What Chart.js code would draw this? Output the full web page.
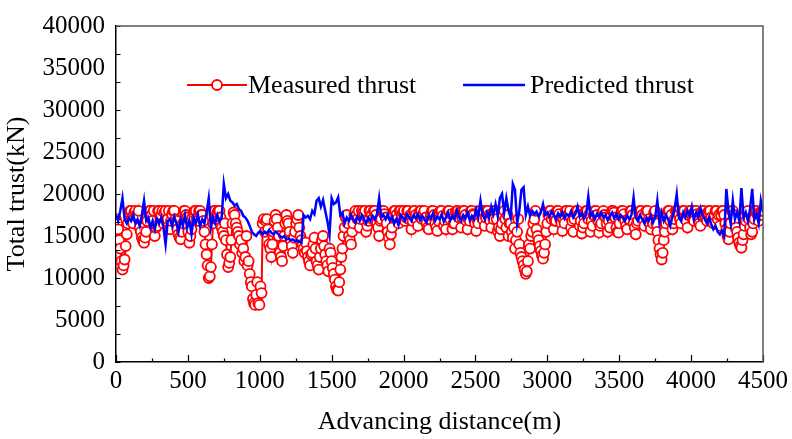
<!DOCTYPE html>
<html>
<head>
<meta charset="utf-8">
<script src="https://cdn.jsdelivr.net/npm/chart.js@4.4.1/dist/chart.umd.min.js"></script>
<style>
  body { margin: 0; background: #fff; }
  canvas { display: block; }
</style>
</head>
<body>
<canvas id="chart" width="792" height="439"></canvas>
<script>
// measured thrust read every 7.5 m, predicted every 15 m (0..4500 m)
const measuredDistance = Array.from({ length: 601 }, (_, i) => i * 7.5);
const predictedDistance = Array.from({ length: 301 }, (_, i) => i * 15);

const measured = [
  17000, 16500, 15800, 14500, 13500, 12000, 11000, 11500, 12200, 13800, 15200, 16500, 17800, 18000, 18000, 17200, 16500, 17800, 18000, 17500,
  17200, 18000, 16000, 15500, 14800, 14500, 14200, 14800, 15500, 16800, 17800, 18000, 18000, 17500, 16800, 18000, 15000, 16000, 16200, 18000,
  18000, 17200, 17500, 18000, 16500, 17800, 18000, 16800, 17000, 18000, 15800, 16800, 17600, 18000, 18000, 17000, 16800, 15800, 15200, 14800,
  14600, 15500, 16500, 18000, 18000, 17500, 17200, 15500, 14200, 15000, 15800, 17200, 17800, 18000, 18000, 17000, 16800, 18000, 18000, 17500,
  17500, 16800, 15500, 14000, 12800, 11500, 10000, 10200, 11300, 14000, 16500, 18000, 18000, 17000, 17800, 18000, 18000, 17200, 16000, 15500,
  15000, 16500, 14500, 12800, 11300, 11800, 12500, 14500, 16500, 17800, 17500, 16500, 16000, 15500, 15000, 14000, 14500, 13000, 13500, 12000,
  12500, 15000, 11500, 12000, 10500, 9500, 9000, 7500, 7000, 6800, 8000, 9500, 7000, 6800, 9000, 8200, 16500, 17000, 15500, 16800,
  17000, 15800, 14000, 13500, 12500, 14000, 15500, 16800, 17500, 17000, 16000, 15000, 13000, 12500, 12000, 13800, 15000, 16500, 17500, 16800,
  16500, 15500, 14500, 13800, 13000, 14800, 15500, 16500, 17000, 17500, 16000, 15000, 14500, 14000, 13500, 13000, 14200, 13200, 12500, 12000,
  11500, 12800, 13000, 14000, 14800, 13500, 12000, 11500, 11000, 12500, 13500, 14500, 15000, 13800, 12800, 12000, 11500, 10800, 13500, 13000,
  12000, 11200, 10500, 9800, 9000, 8600, 8500, 9500, 11000, 12500, 13500, 15000, 16000, 17200, 17500, 16500, 15000, 14500, 14000, 15500,
  16500, 17500, 18000, 17500, 17000, 18000, 16000, 17000, 18000, 17800, 17500, 18000, 15500, 16200, 16800, 18000, 18000, 17500, 17000, 18000,
  18000, 17500, 16500, 16000, 15000, 16800, 17000, 18000, 18000, 17600, 17200, 16500, 15500, 14800, 14000, 15200, 16000, 17500, 18000, 18000,
  17500, 17000, 16500, 18000, 18000, 17500, 17800, 18000, 16800, 17200, 18000, 18000, 17000, 17500, 15800, 16800, 18000, 18000, 17500, 17000,
  16200, 17500, 18000, 18000, 17000, 17600, 18000, 17200, 16500, 16000, 15800, 17000, 17500, 18000, 18000, 17500, 16500, 16000, 15600, 16800,
  17800, 18000, 18000, 17400, 16200, 16800, 15800, 17500, 18000, 18000, 17000, 17600, 15800, 16500, 16500, 17800, 18000, 18000, 17200, 17800,
  16000, 17200, 18000, 18000, 17500, 16800, 15800, 17000, 16800, 18000, 18000, 17600, 17500, 16500, 15600, 17000, 16500, 18000, 18000, 17500,
  17000, 18000, 16200, 17200, 18000, 18000, 17500, 16800, 16000, 17500, 17000, 18000, 18000, 17000, 15600, 16000, 15000, 15800, 16500, 17500,
  18000, 17000, 16000, 17500, 15000, 16500, 16500, 15500, 14800, 16000, 13500, 14500, 15500, 17000, 14000, 13000, 12500, 12000, 11500, 11000,
  10500, 10800, 12000, 14000, 13500, 15000, 15500, 16500, 17000, 18000, 15800, 15000, 14500, 13800, 13200, 12700, 12300, 13000, 14000, 15500,
  16500, 17500, 18000, 18000, 17000, 17500, 15800, 16800, 16800, 18000, 18000, 17600, 17000, 16500, 15600, 17000, 16500, 18000, 18000, 17500,
  17500, 18000, 16000, 16800, 15500, 17000, 17800, 18000, 18000, 17500, 16200, 16800, 15300, 16000, 16500, 17800, 18000, 18000, 17000, 17600,
  15500, 16800, 16200, 17500, 18000, 18000, 17500, 16800, 15400, 16200, 16500, 17800, 18000, 17500, 17200, 16500, 15500, 16800, 16000, 17500,
  18000, 18000, 17800, 17200, 16000, 15500, 15400, 16500, 17500, 18000, 18000, 17600, 16800, 16200, 15800, 17000, 17000, 18000, 18000, 17500,
  16500, 16000, 15200, 16500, 16800, 17800, 18000, 18000, 17500, 17000, 16200, 17500, 18000, 18000, 17000, 16500, 15800, 16800, 16500, 17800,
  18000, 16500, 15500, 14500, 13500, 12800, 12200, 13000, 14500, 15500, 16500, 17500, 18000, 18000, 16800, 17500, 15800, 16500, 17000, 18000,
  18000, 18000, 17500, 17000, 16500, 17800, 18000, 18000, 17200, 16800, 16000, 17500, 18000, 18000, 17500, 17000, 16800, 18000, 18000, 17600,
  17000, 16500, 16200, 17500, 18000, 18000, 17500, 17200, 16800, 17800, 18000, 18000, 17200, 16800, 16500, 17500, 18000, 18000, 17000, 17500,
  16200, 17500, 18000, 18000, 17500, 16500, 15800, 15000, 14600, 15500, 16500, 18000, 18000, 17500, 17000, 16000, 15500, 14800, 14200, 13800,
  13600, 14500, 15200, 16200, 16800, 17800, 18000, 17000, 16000, 15200, 15500, 16500, 17000, 18000, 18000, 17500, 16800, 17800, 17500, 18000,
  18000
];

const predicted = [
  17500, 16800, 18000, 19500, 17000, 16500, 17200, 16800, 17500, 16500, 17000, 16200, 17500, 19200, 16800, 17200, 16000, 16800, 15800, 17000,
  16500, 17200, 16000, 14000, 16800, 17000, 16200, 17300, 16500, 15500, 17000, 16200, 17500, 16000, 16800, 15200, 17200, 16500, 17500, 16200,
  17000, 16500, 17800, 19500, 16000, 17200, 16500, 17500, 16800, 17200, 21200, 19500, 20000, 19200, 19000, 18600, 18800, 18200, 18000, 17400,
  17200, 16800, 16200, 15500, 15200, 15000, 15400, 15600, 15200, 15500, 15300, 15700, 15400, 15200, 15500, 15300, 15000, 14800, 15000, 14600,
  14700, 14500, 14600, 14400, 14500, 14300, 14200, 17500, 17200, 17400, 17000, 18000, 17600, 19200, 19500, 18500, 19300, 18000, 16800, 15200,
  19500, 18800, 19000, 19600, 17500, 17800, 16500, 17200, 16800, 17500, 17000, 16600, 17300, 16800, 17500, 17000, 16500, 17200, 16800, 17400,
  17000, 17600, 19500, 17200, 17500, 17000, 17600, 16800, 17300, 16500, 17000, 16300, 17500, 17200, 16800, 17600, 17200, 16800, 17500, 17100,
  17600, 16900, 17400, 17000, 16600, 17500, 17100, 17700, 16800, 17300, 17000, 17600, 16700, 17200, 17800, 16900, 17400, 17000, 18000, 17300,
  16800, 17500, 17100, 17800, 16900, 17400, 17000, 18200, 17300, 19200, 17500, 17000, 17800, 17200, 18500, 17600, 18800, 17400, 19500, 20000,
  17800, 19500, 18000, 17200, 21200, 20500, 16500, 18000, 20500, 20800, 17500, 18500, 17400, 18000, 17600, 17900, 17300, 17800, 18800, 17500,
  17800, 17300, 17900, 17500, 17000, 17700, 17300, 17800, 17100, 17600, 17400, 17900, 17200, 17600, 18500, 17300, 17700, 17100, 17500, 19700,
  17400, 17800, 17000, 17600, 17300, 17800, 17200, 17500, 16900, 17400, 17800, 17100, 17600, 17000, 17500, 17200, 16800, 17400, 17000, 17500,
  19600, 17200, 16800, 17500, 17000, 16500, 17200, 16800, 17400, 16600, 17200, 19200, 16500, 17800, 16800, 17500, 17000, 16200, 17300, 18200,
  20000, 17200, 16800, 17800, 17200, 18000, 17400, 18500, 17000, 17800, 17200, 18300, 17500, 17000, 16500, 17200, 16400, 15800, 16200, 15500,
  15200, 15600, 15000, 20600, 18000, 16500, 19200, 17000, 17800, 16800, 20700, 17200, 17800, 16800, 18200, 20600, 17000, 17600, 16500, 19200, 17800
];

const xTicks = [0, 500, 1000, 1500, 2000, 2500, 3000, 3500, 4000, 4500];
const yTicks = [0, 5000, 10000, 15000, 20000, 25000, 30000, 35000, 40000];

const serif = 'Liberation Serif';
const area = { left: 116, top: 21, right: 763, bottom: 362 };

function toPoints(xs, values) {
  return values.map((v, i) => ({ x: xs[i], y: v }));
}

// inward tick marks, frame and legend inside the plot
const decor = {
  id: 'decor',
  afterDraw(chart) {
    const { ctx, chartArea: ca, scales } = chart;
    ctx.save();
    ctx.strokeStyle = '#000';
    ctx.lineWidth = 1.2;
    ctx.beginPath();
    for (let v = 0; v <= 4500; v += 250) {
      const px = Math.round(scales.x.getPixelForValue(v)) + 0.5;
      const len = v % 500 === 0 ? 7 : 3.5;
      ctx.moveTo(px, ca.bottom);
      ctx.lineTo(px, ca.bottom - len);
    }
    for (let k = 0; k <= 12; k++) {
      const py = Math.round(scales.y.getPixelForValue(k * 40000 / 12)) + 0.5;
      ctx.moveTo(ca.left, py);
      ctx.lineTo(ca.left + 4.5, py);
    }
    ctx.stroke();

    ctx.strokeStyle = '#555';
    ctx.lineWidth = 1.5;
    ctx.beginPath();
    ctx.moveTo(ca.left, ca.top);
    ctx.lineTo(ca.right, ca.top);
    ctx.lineTo(ca.right, ca.bottom);
    ctx.stroke();

    const ly = 85;
    const sets = chart.data.datasets;
    ctx.font = '26px "' + serif + '"';
    ctx.textBaseline = 'middle';

    ctx.strokeStyle = sets[0].borderColor;
    ctx.lineWidth = 2;
    ctx.beginPath();
    ctx.moveTo(187, ly);
    ctx.lineTo(247, ly);
    ctx.stroke();
    ctx.beginPath();
    ctx.arc(217, ly, 5, 0, Math.PI * 2);
    ctx.fillStyle = '#fff';
    ctx.fill();
    ctx.lineWidth = 1.8;
    ctx.stroke();
    ctx.fillStyle = '#000';
    ctx.fillText(sets[0].label, 248, ly + 1);

    ctx.strokeStyle = sets[1].borderColor;
    ctx.lineWidth = 2.5;
    ctx.beginPath();
    ctx.moveTo(463, ly);
    ctx.lineTo(525, ly);
    ctx.stroke();
    ctx.fillText(sets[1].label, 530, ly + 1);
    ctx.restore();
  }
};

new Chart(document.getElementById('chart'), {
  type: 'line',
  data: {
    datasets: [
      {
        label: 'Measured thrust',
        data: toPoints(measuredDistance, measured),
        borderColor: '#ff0000',
        borderWidth: 2,
        pointRadius: 5,
        pointBorderWidth: 1.8,
        pointBorderColor: '#ff0000',
        pointBackgroundColor: '#ffffff',
        tension: 0,
        order: 2
      },
      {
        label: 'Predicted thrust',
        data: toPoints(predictedDistance, predicted),
        borderColor: '#0000ff',
        borderWidth: 2.5,
        pointRadius: 0,
        tension: 0,
        order: 1
      }
    ]
  },
  options: {
    responsive: false,
    animation: false,
    layout: { padding: { top: area.top, right: 792 - area.right, left: 0, bottom: 0 } },
    plugins: { legend: { display: false }, tooltip: { enabled: false } },
    scales: {
      x: {
        type: 'linear',
        min: 0,
        max: 4500,
        afterBuildTicks: s => { s.ticks = xTicks.map(v => ({ value: v })); },
        afterFit: s => { s.height = 439 - area.bottom; },
        grid: { display: false, drawTicks: false },
        border: { display: true, color: '#000', width: 1.5 },
        ticks: { color: '#000', font: { family: serif, size: 25 }, padding: 4, maxRotation: 0, callback: v => String(v) },
        title: { display: true, text: 'Advancing distance(m)', color: '#000', font: { family: serif, size: 26 }, padding: { bottom: 1 } }
      },
      y: {
        min: 0,
        max: 40000,
        afterBuildTicks: s => { s.ticks = yTicks.map(v => ({ value: v })); },
        afterFit: s => { s.width = area.left; },
        grid: { display: false, drawTicks: false },
        border: { display: true, color: '#000', width: 1.5 },
        ticks: { color: '#000', font: { family: serif, size: 25 }, padding: 11, callback: v => String(v) },
        title: { display: true, text: 'Total trust(kN)', color: '#000', font: { family: serif, size: 26 }, padding: { top: 2 } }
      }
    }
  },
  plugins: [decor]
});
</script>
</body>
</html>
